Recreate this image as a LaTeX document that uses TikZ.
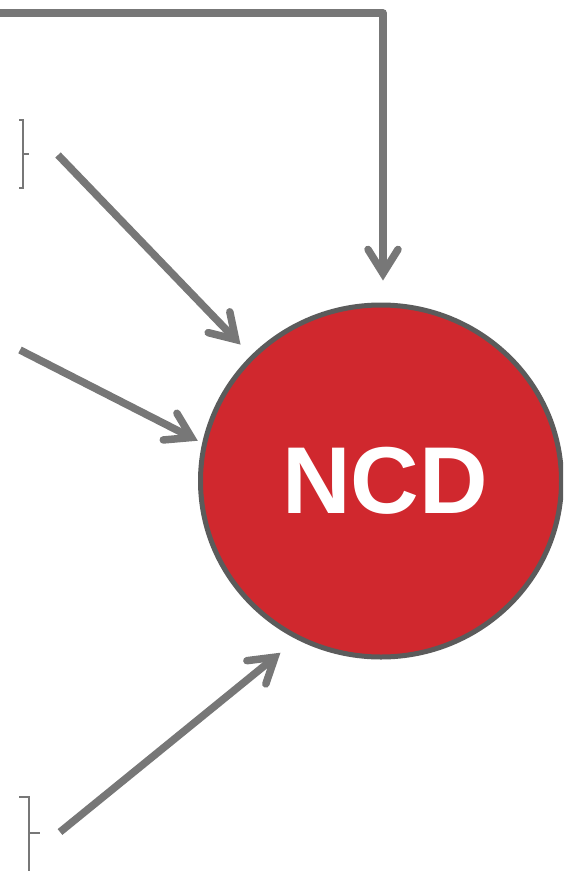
\documentclass[tikz,border=0pt]{standalone}
\usepackage{fontspec}
\setmainfont{Liberation Sans}
\usetikzlibrary{shapes.geometric,arrows.meta}
\definecolor{arrgray}{HTML}{777777}
\definecolor{ncdred}{HTML}{D0282E}
\definecolor{ncdedge}{HTML}{5B5B5B}
\begin{document}
\begin{tikzpicture}[x=1pt,y=-1pt,
  arr/.style={draw=arrgray,line width=7.5pt,line join=round,
    -{Straight Barb[length=24pt,width=30pt,line cap=round,line join=miter]}},
  brk/.style={draw=arrgray,line width=2.5pt},
  ncdnode/.style={ellipse,fill=ncdred,draw=ncdedge,line width=5pt,
    minimum width=361pt,minimum height=352pt,inner sep=0pt,text=white,
    font=\fontsize{95}{98}\selectfont\bfseries}]
\useasboundingbox (0,0) rectangle (563,871);
\clip (0,0) rectangle (563,871);
\node[ncdnode] (ncd) at (381,481) {\hspace{8pt}NCD};
\coordinate (s0) at (-5,13);
\coordinate (s1) at (58,155);
\coordinate (s2) at (20,350);
\coordinate (s3) at (60,832);
\draw[arr,shorten >=22pt] (s0) -| ([xshift=2pt]ncd.north);
\draw[arr,shorten >=15pt] (s1) -- (ncd.136);
\draw[arr,shorten >=5pt] (s2) -- (ncd.168);
\draw[arr,shorten >=21pt] (s3) -- (ncd.242);
% brackets
\draw[brk] (19,120) -- (23,120) -- (23,188) -- (19,188);
\draw[brk] (23,154) -- (29,154);
\draw[brk] (19,797) -- (29,797) -- (29,875);
\draw[brk] (29,833) -- (40,833);
\end{tikzpicture}
\end{document}
